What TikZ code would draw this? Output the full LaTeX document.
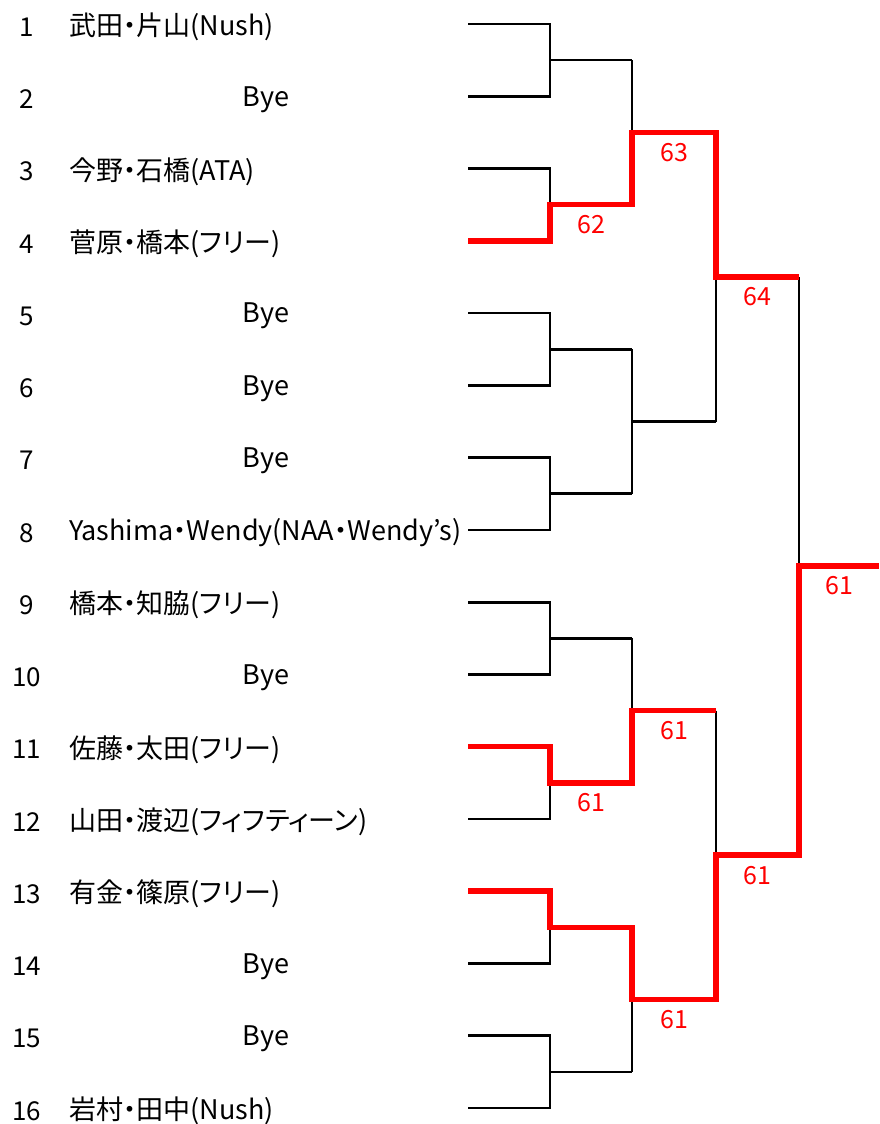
\documentclass[tikz,border=0pt]{standalone}
\usepackage{fontspec}
\setmainfont{Noto Sans CJK JP}[RawFeature=+palt]
\usetikzlibrary{calc}
\tikzset{
	line/.style={line width=2.7pt},
	win/.style={line width=5.5pt, red},
	score/.style={text=red, inner sep=0pt, yshift=-20pt, font=\fontsize{25}{25}\selectfont},
	seed/.style={inner sep=0pt, yshift=-2pt, font=\fontsize{26}{26}\selectfont},
	team/.style={anchor=west, inner sep=0pt, yshift=-2pt},
	bye/.style={inner sep=0pt, yshift=-2pt},
}
\begin{document}
\begin{tikzpicture}[x=1pt,y=-1pt,font=\fontsize{27}{27}\selectfont]
	\useasboundingbox (0,0) rectangle (879,1124);
	\path
	coordinate (s1) at (468,24)
	coordinate (s2) at (468,96.3)
	coordinate (s3) at (468,168.5)
	coordinate (s4) at (468,240.8)
	coordinate (s5) at (468,313.1)
	coordinate (s6) at (468,385.4)
	coordinate (s7) at (468,457.6)
	coordinate (s8) at (468,529.9)
	coordinate (s9) at (468,602.2)
	coordinate (s10) at (468,674.4)
	coordinate (s11) at (468,746.7)
	coordinate (s12) at (468,819)
	coordinate (s13) at (468,891.2)
	coordinate (s14) at (468,963.5)
	coordinate (s15) at (468,1035.8)
	coordinate (s16) at (468,1108.1)
	coordinate (m1) at (550,60.1)
	coordinate (m2) at (550,204.7)
	coordinate (m3) at (550,349.2)
	coordinate (m4) at (550,493.8)
	coordinate (m5) at (550,638.3)
	coordinate (m6) at (550,782.8)
	coordinate (m7) at (550,927.4)
	coordinate (m8) at (550,1071.9)
	coordinate (n1) at (632,60.1)
	coordinate (n2) at (632,204.7)
	coordinate (n3) at (632,349.2)
	coordinate (n4) at (632,493.8)
	coordinate (n5) at (632,638.3)
	coordinate (n6) at (632,782.8)
	coordinate (n7) at (632,927.4)
	coordinate (n8) at (632,1071.9)
	coordinate (u1) at (632,132.4)
	coordinate (u2) at (632,421.5)
	coordinate (u3) at (632,710.6)
	coordinate (u4) at (632,999.6)
	coordinate (v1) at (716,132.4)
	coordinate (v2) at (716,421.5)
	coordinate (v3) at (716,710.6)
	coordinate (v4) at (716,999.6)
	coordinate (w1) at (716,277)
	coordinate (w2) at (716,855.1)
	coordinate (x1) at (799,277)
	coordinate (x2) at (799,855.1)
	coordinate (f) at (799,566)
	coordinate (g) at (879,566)
	;
\draw[line] (s1) -| (m1) |- (s2) (m1) -- (n1);
\draw[line] (s3) -| (m2) |- (s4) (m2) -- (n2);
\draw[line] (s5) -| (m3) |- (s6) (m3) -- (n3);
\draw[line] (s7) -| (m4) |- (s8) (m4) -- (n4);
\draw[line] (s9) -| (m5) |- (s10) (m5) -- (n5);
\draw[line] (s11) -| (m6) |- (s12) (m6) -- (n6);
\draw[line] (s13) -| (m7) |- (s14) (m7) -- (n7);
\draw[line] (s15) -| (m8) |- (s16) (m8) -- (n8);
\draw[line] (n1) -- (n2) (u1) -- (v1);
\draw[line] (n3) -- (n4) (u2) -- (v2);
\draw[line] (n5) -- (n6) (u3) -- (v3);
\draw[line] (n7) -- (n8) (u4) -- (v4);
\draw[line] (v1) -- (v2) (w1) -- (x1);
\draw[line] (v3) -- (v4) (w2) -- (x2);
\draw[line] (x1) -- (x2) (f) -- (g);
% winners
\draw[win] (s4) -| (m2) -- (n2) -- (u1) -- (v1) -- (w1) -- (x1);
\draw[win] (s11) -| (m6) -- (n6) -- (u3) -- (v3);
\draw[win] (s13) -| (m7) -- (n7) -- (u4) -- (v4) -- (w2) -- (x2) -- (f) -- (g);
	\node[score] (l62) at ($(m2)!0.5!(n2)$) {62};
	\node[score] (l63) at ($(u1)!0.5!(v1)$) {63};
	\node[score] (l64) at ($(w1)!0.5!(x1)$) {64};
	\node[score] (lf) at ($(f)!0.5!(g)$) {61};
	\node[score] (l11) at ($(m6)!0.5!(n6)$) {61};
	\node[score] (l9) at ($(u3)!0.5!(v3)$) {61};
	\node[score] (l13) at ($(u4)!0.5!(v4)$) {61};
	\node[score] (lb) at ($(w2)!0.5!(x2)$) {61};
	\node[seed] (n01) at (27,25) {1};
	\node[seed] (n02) at (27,97.3) {2};
	\node[seed] (n03) at (27,169.5) {3};
	\node[seed] (n04) at (27,241.8) {4};
	\node[seed] (n05) at (27,314.1) {5};
	\node[seed] (n06) at (27,386.4) {6};
	\node[seed] (n07) at (27,458.6) {7};
	\node[seed] (n08) at (27,530.9) {8};
	\node[seed] (n09) at (27,603.2) {9};
	\node[seed] (n10) at (27,675.4) {10};
	\node[seed] (n11) at (27,747.7) {11};
	\node[seed] (n12) at (27,820) {12};
	\node[seed] (n13) at (27,892.2) {13};
	\node[seed] (n14) at (27,964.5) {14};
	\node[seed] (n15) at (27,1036.8) {15};
	\node[seed] (n16) at (27,1109.1) {16};
	\node[team] (t1) at (69,25) {武田・片山(Nush)};
	\node[bye] (t2) at (266,97.3) {Bye};
	\node[team] (t3) at (69,169.5) {今野・石橋(ATA)};
	\node[team] (t4) at (69,241.8) {菅原・橋本(フリー)};
	\node[bye] (t5) at (266,314.1) {Bye};
	\node[bye] (t6) at (266,386.4) {Bye};
	\node[bye] (t7) at (266,458.6) {Bye};
	\node[team] (t8) at (69,530.9) {Yashima・Wendy(NAA・Wendy’s)};
	\node[team] (t9) at (69,603.2) {橋本・知脇(フリー)};
	\node[bye] (t10) at (266,675.4) {Bye};
	\node[team] (t11) at (69,747.7) {佐藤・太田(フリー)};
	\node[team] (t12) at (69,820) {山田・渡辺(フィフティーン)};
	\node[team] (t13) at (69,892.2) {有金・篠原(フリー)};
	\node[bye] (t14) at (266,964.5) {Bye};
	\node[bye] (t15) at (266,1036.8) {Bye};
	\node[team] (t16) at (69,1109.1) {岩村・田中(Nush)};
\end{tikzpicture}
\end{document}
